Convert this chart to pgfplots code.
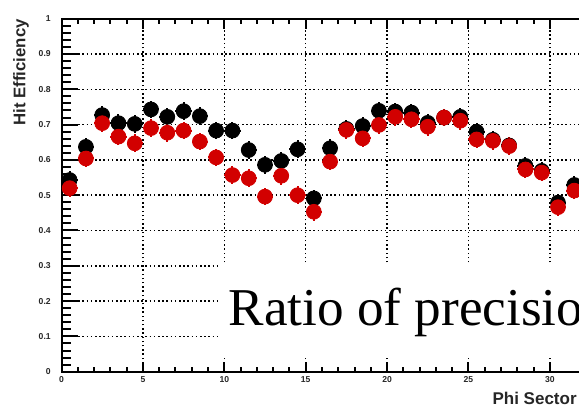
\documentclass[border=0pt]{standalone}
\usepackage{fontspec}
\setmainfont{Liberation Sans}
\newfontfamily\timesfont{Liberation Serif}
\usepackage{pgfplots}
\pgfplotsset{compat=1.18}
\definecolor{rootred}{RGB}{210,0,0}
\begin{document}
\begin{tikzpicture}
\begin{axis}[
  x=8.14pt, y=176.5pt,
  xmin=0, xmax=36, ymin=0, ymax=1,
  clip=false,
  axis line style={line width=1pt},
  xtick={0,5,10,15,20,25,30},
  minor x tick num=4,
  ytick={0,0.1,0.2,0.3,0.4,0.5,0.6,0.7,0.8,0.9,1},
  minor y tick num=4,
  tick align=inside,
  major tick length=8pt,
  minor tick length=4.5pt,
  tick style={line width=1pt, black},
  xtick style={/pgfplots/major tick length=5pt,/pgfplots/minor tick length=2.5pt},
  grid=major,
  grid style={black, line width=0.75pt, dash pattern=on 0.75pt off 1.35pt},
  /pgf/number format/assume math mode=true,
  tick label style={font=\fontsize{4.3}{5}\selectfont\bfseries, text=black!85},
  yticklabel style={anchor=east, inner sep=0pt, xshift=-5.2pt},
  xticklabel style={anchor=north, inner sep=0pt, yshift=-2.4pt},
]
% black series (drawn first)
\addplot[only marks, mark=*, mark size=3.7pt, black,
  error bars/.cd, x dir=both, x fixed=0.5, y dir=both, y fixed=0.025,
  error mark=none, error bar style={line width=1pt, black}]
coordinates {
(0.5,0.543) (1.5,0.637) (2.5,0.727) (3.5,0.704) (4.5,0.702)
(5.5,0.743) (6.5,0.722) (7.5,0.738) (8.5,0.724) (9.5,0.683)
(10.5,0.683) (11.5,0.628) (12.5,0.586) (13.5,0.597) (14.5,0.630)
(15.5,0.491) (16.5,0.633) (17.5,0.688) (18.5,0.696) (19.5,0.739)
(20.5,0.737) (21.5,0.734) (22.5,0.705) (23.5,0.720) (24.5,0.722)
(25.5,0.680) (26.5,0.657) (27.5,0.641) (28.5,0.583) (29.5,0.569)
(30.5,0.479) (31.5,0.529)
};
% red series
\addplot[only marks, mark=*, mark size=3.7pt, rootred,
  error bars/.cd, x dir=both, x fixed=0.5, y dir=both, y fixed=0.025,
  error mark=none, error bar style={line width=1pt, rootred}]
coordinates {
(0.5,0.520) (1.5,0.604) (2.5,0.704) (3.5,0.666) (4.5,0.647)
(5.5,0.690) (6.5,0.677) (7.5,0.683) (8.5,0.652) (9.5,0.607)
(10.5,0.557) (11.5,0.548) (12.5,0.496) (13.5,0.555) (14.5,0.500)
(15.5,0.453) (16.5,0.595) (17.5,0.685) (18.5,0.661) (19.5,0.699)
(20.5,0.722) (21.5,0.715) (22.5,0.694) (23.5,0.720) (24.5,0.711)
(25.5,0.658) (26.5,0.654) (27.5,0.639) (28.5,0.573) (29.5,0.564)
(30.5,0.466) (31.5,0.513)
};
% white box with overlaid text
\fill[white] (axis cs:9.67,0.042) rectangle (axis cs:40,0.308);
\node[anchor=base west, inner sep=0pt, font=\timesfont\fontsize{26.6}{30}\selectfont]
  at (axis cs:10.25,0.132) {Ratio of precision};
\node[anchor=base east, inner sep=0pt, font=\fontsize{8.5}{10}\selectfont\bfseries, text=black!85]
  at (axis cs:31.67,-0.094) {Phi Sector};
\node[anchor=east, rotate=90, inner sep=0pt, font=\fontsize{8.4}{10}\selectfont\bfseries, text=black!85]
  at (axis cs:-2.49,1.0) {Hit Efficiency};
\coordinate (BL) at (axis cs:-3.778,-0.1085);
\coordinate (TR) at (axis cs:31.79,1.053);
\end{axis}
\pgfresetboundingbox
\useasboundingbox (BL) rectangle (TR);
\end{tikzpicture}
\end{document}
